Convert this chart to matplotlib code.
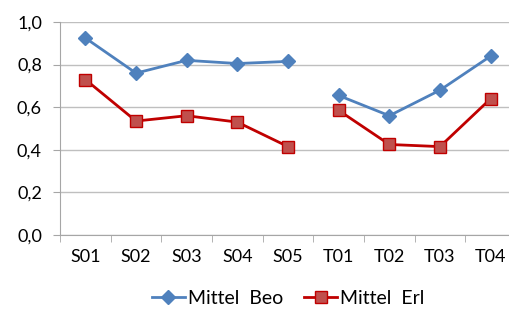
import numpy as np
import matplotlib
matplotlib.use("Agg")
import matplotlib.pyplot as plt
from matplotlib.ticker import FuncFormatter, FixedLocator

# Kategorien und Mittelwerte
categories = ["S01", "S02", "S03", "S04", "S05", "T01", "T02", "T03", "T04"]
mittel_beo = [0.925, 0.76, 0.82, 0.805, 0.815, 0.655, 0.56, 0.68, 0.84]
mittel_erl = [0.73, 0.535, 0.56, 0.53, 0.415, 0.585, 0.425, 0.415, 0.64]
# Luecke zwischen S05 und T01
segments = [(0, 5), (5, 9)]

blue = "#4F81BD"
red_line = "#C00000"
red_face = "#C0504D"

plt.rcParams["font.family"] = ["Lato", "DejaVu Sans"]

fig = plt.figure(figsize=(5.1, 3.09), dpi=100)
ax = fig.add_axes([60 / 510, 74 / 309, 456 / 510, 213 / 309])

x = np.arange(len(categories))
for i, (a, b) in enumerate(segments):
    ax.plot(x[a:b], mittel_beo[a:b], color=blue, lw=2.0, marker="D", ms=7.5,
            mfc=blue, mec=blue, label="Mittel  Beo" if i == 0 else None, zorder=3)
    ax.plot(x[a:b], mittel_erl[a:b], color=red_line, lw=2.0, marker="s", ms=8.5,
            mfc=red_face, mec=red_line, mew=1.0,
            label="Mittel  Erl" if i == 0 else None, zorder=3)

ax.set_xlim(-0.5, len(categories) - 0.5)
ax.set_ylim(0, 1.0)
ax.set_yticks(np.arange(0, 1.01, 0.2))
ax.yaxis.set_major_formatter(FuncFormatter(lambda v, p: f"{v:.1f}".replace(".", ",")))
ax.set_xticks(x)
ax.set_xticklabels(categories)
ax.xaxis.set_minor_locator(FixedLocator(np.arange(-0.5, len(categories), 1.0)))

ax.grid(axis="y", color="#BFBFBF", lw=1.0, zorder=0)
for s in ["top", "right"]:
    ax.spines[s].set_visible(False)
ax.spines["left"].set_color("#A6A6A6")
ax.spines["bottom"].set_color("#A6A6A6")
ax.tick_params(axis="x", which="major", length=0, pad=10, labelsize=13)
ax.tick_params(axis="x", which="minor", length=5, color="#A6A6A6")
ax.tick_params(axis="y", length=5, color="#A6A6A6", labelsize=13, pad=8)

fig.legend(loc="center", bbox_to_anchor=(0.565, 0.035), ncol=2, frameon=False,
           fontsize=14, handlelength=1.7, columnspacing=1.1, handletextpad=0.15)

fig.savefig("out.png", dpi=100)
